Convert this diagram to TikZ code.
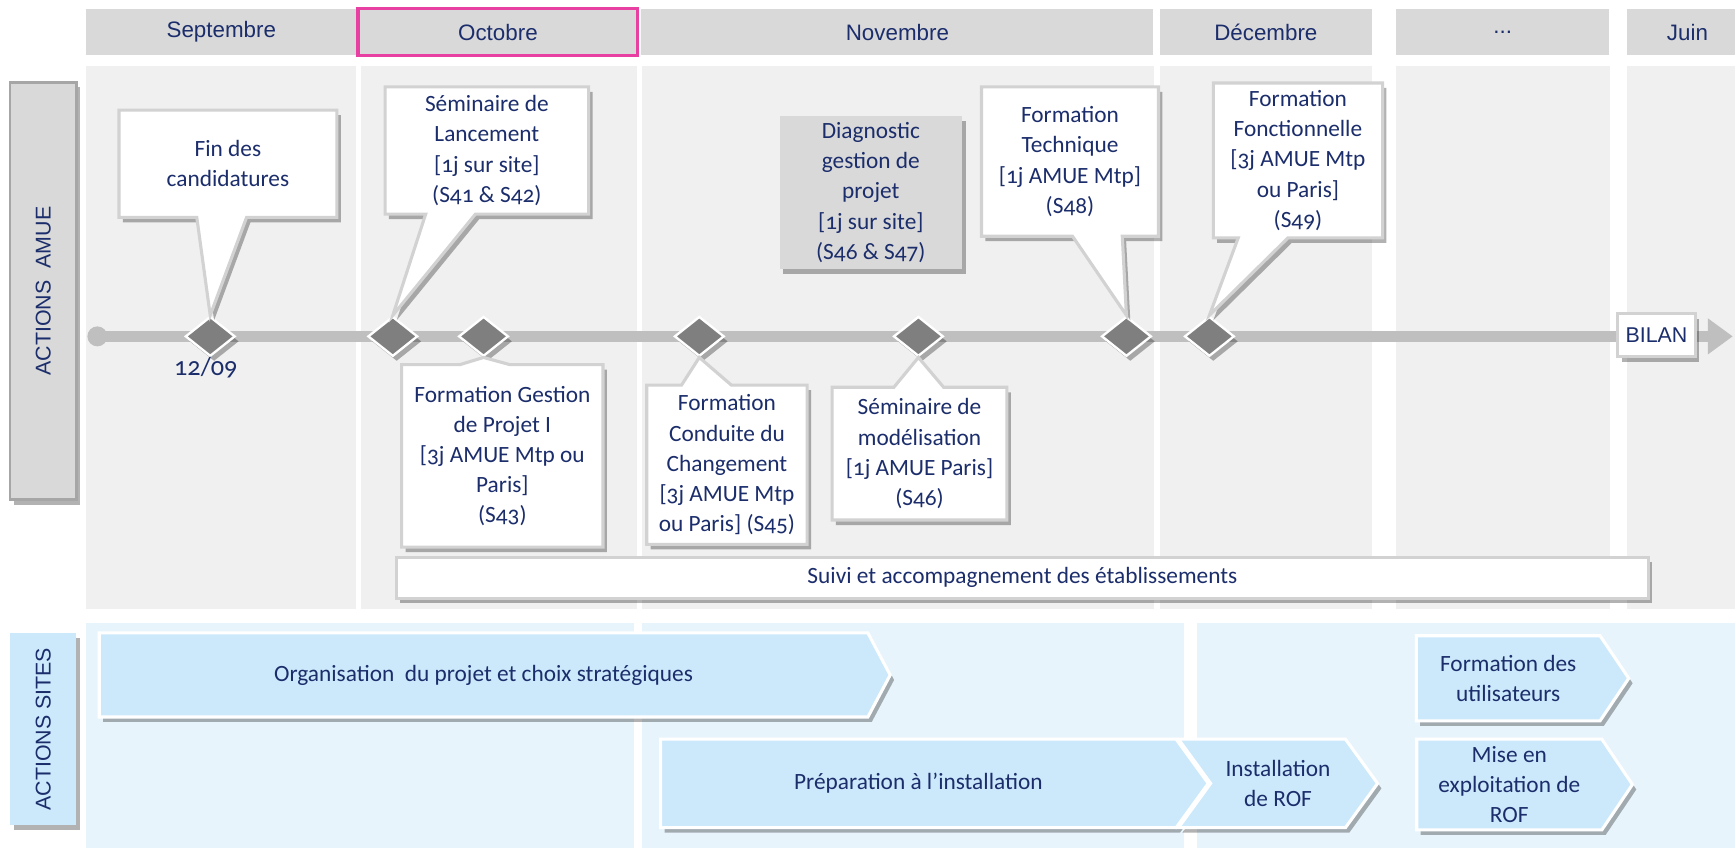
\documentclass[tikz,border=0pt]{standalone}
\usepackage{fontspec}
\setmainfont{Carlito}[Numbers=OldStyle]
\newfontfamily\arialfont{Liberation Sans}
\usetikzlibrary{shapes.geometric,shapes.callouts,shapes.symbols,shadows,arrows.meta}

\definecolor{navy}{HTML}{1B2D6B}
\definecolor{pinkframe}{HTML}{E83FA3}
\definecolor{panelgrey}{HTML}{F0F0F0}
\definecolor{bargrey}{HTML}{D9D9D9}
\definecolor{edgegrey}{HTML}{D2D2D2}
\definecolor{labeledge}{HTML}{A6A6A6}
\definecolor{panelblue}{HTML}{E8F4FC}
\definecolor{chevblue}{HTML}{CCE9FB}
\definecolor{linegrey}{HTML}{BFBFBF}
\definecolor{milestonegrey}{HTML}{7F7F7F}

\tikzset{
  softshadow/.style={drop shadow={shadow xshift=0.07cm, shadow yshift=-0.09cm, opacity=0.3, fill=black}},
  month/.style={fill=bargrey, minimum height=0.84cm, inner sep=0pt, text=navy,
    font=\arialfont\fontsize{11.5}{14}\selectfont},
  lanebox/.style={draw=labeledge, line width=1.2pt, rotate=90, minimum height=1.2cm, inner sep=0pt,
    text=navy, font=\arialfont\fontsize{11}{13}\selectfont, softshadow},
  milestone/.style={diamond, fill=milestonegrey, draw=white, line width=1.2pt, minimum width=0.9cm,
    minimum height=0.72cm, inner sep=0pt, softshadow},
  bubble/.style={rectangle callout, fill=white, draw=edgegrey, line width=1.6pt, align=center,
    inner sep=2pt, text=navy, font=\fontsize{12}{15.5}\selectfont, callout pointer width=0.9cm, softshadow},
  flatbox/.style={rectangle, fill=white, draw=edgegrey, line width=1.6pt, inner sep=2pt, text=navy,
    font=\fontsize{12}{15.5}\selectfont, softshadow},
  stage/.style={signal, signal to=east, fill=chevblue, draw=white, line width=1.6pt, align=center,
    inner sep=2pt, text=navy, font=\fontsize{12}{15.5}\selectfont, softshadow}
}

\begin{document}
\begin{tikzpicture}[x=0.02cm, y=-0.02cm]
  \useasboundingbox (0,0) rectangle (1568,766);
  \fill[white] (0,0) rectangle (1568,766);
  % month headers
  \node[month, minimum width=4.88cm] (sep) at (200,29) {Septembre};
  \node[month, minimum width=5.04cm] (oct) at (450,29) {Octobre};
  \node[month, minimum width=9.26cm, text width=8.4cm, align=center] (nov) at (811,29) {Novembre};
  \node[month, minimum width=3.84cm] (dec) at (1144,29) {Décembre};
  \node[month, minimum width=3.86cm] (etc) at (1358,29) {...};
  \node[month, minimum width=2.2cm] (jun) at (1525,29) {Juin};
  \draw[pinkframe, line width=1.8pt] (oct.south west) rectangle (oct.north east);
  % columns of the two lanes
  \fill[panelgrey] (78,60) rectangle (322,550);
  \fill[panelgrey] (326,60) rectangle (576,550);
  \fill[panelgrey] (580,60) rectangle (1043,550);
  \fill[panelgrey] (1048,60) rectangle (1240,550);
  \fill[panelgrey] (1262,60) rectangle (1455,550);
  \fill[panelgrey] (1470,60) rectangle (1580,550);
  \fill[panelblue] (78,563) rectangle (573,770);
  \fill[panelblue] (580,563) rectangle (1070,770);
  \fill[panelblue] (1082,563) rectangle (1580,770);
  % lane labels
  \node[lanebox, fill=bargrey, minimum width=7.54cm] (amue) at (39,263) {ACTIONS\ \ AMUE};
  \node[lanebox, fill=chevblue, draw=none, minimum width=3.48cm] (sites) at (39,659) {ACTIONS SITES};
  % time line
  \node[circle, fill=linegrey, minimum size=0.36cm, inner sep=0pt] (tlstart) at (88,304) {};
  \coordinate (tlend) at (1566,304);
  \draw[linegrey, line width=5.5pt, -{Triangle[length=0.45cm,width=0.62cm]}] (tlstart.center) -- (tlend);
  \node[milestone] (m1) at (190,304) {};
  \node[milestone] (m2) at (355,304) {};
  \node[milestone] (m3) at (437,304) {};
  \node[milestone] (m4) at (632,304) {};
  \node[milestone] (m5) at (830,304) {};
  \node[milestone] (m6) at (1018,304) {};
  \node[milestone] (m7) at (1093,304) {};
  \node[text=navy, font=\fontsize{13.5}{16}\selectfont] (date) at (186,332) {12/09};
  \node[flatbox, font=\arialfont\fontsize{11}{13}\selectfont, minimum width=1.4cm, minimum height=0.78cm] (bilan) at (1497,303) {BILAN};
  % events above the line
  \node[bubble, minimum width=3.94cm, minimum height=1.94cm, callout absolute pointer={(m1.north)}]
    (fin) at (206,148) {Fin des\\candidatures};
  \node[bubble, minimum width=3.68cm, minimum height=2.3cm, callout absolute pointer={(m2.north)}]
    (lancement) at (440,136) {Séminaire de\\Lancement\\{[}1j sur site{]}\\(S41 \& S42)};
  \node[flatbox, fill=bargrey, draw=none, align=center, minimum width=3.3cm, minimum height=2.76cm]
    (diag) at (787,174) {Diagnostic\\gestion de\\projet\\{[}1j sur site{]}\\(S46 \& S47)};
  \node[bubble, minimum width=3.2cm, minimum height=2.7cm, callout absolute pointer={(m6.north)}]
    (technique) at (967,146) {Formation\\Technique\\{[}1j AMUE Mtp{]}\\(S48)};
  \node[bubble, minimum width=3.06cm, minimum height=2.8cm, callout absolute pointer={(m7.north)}]
    (fonction) at (1173,145) {Formation\\Fonctionnelle\\{[}3j AMUE Mtp\\ou Paris{]}\\(S49)};
  % events below the line
  \node[bubble, minimum width=3.64cm, minimum height=3.3cm, callout absolute pointer={(m3.south)}]
    (gestion) at (454,412) {Formation Gestion\\de Projet I\\{[}3j AMUE Mtp ou\\Paris{]}\\(S43)};
  \node[bubble, minimum width=2.9cm, minimum height=2.88cm, callout absolute pointer={(m4.south)}]
    (conduite) at (657,420) {Formation\\Conduite du\\Changement\\{[}3j AMUE Mtp\\ou Paris{]} (S45)};
  \node[bubble, minimum width=3.16cm, minimum height=2.4cm, callout absolute pointer={(m5.south)}]
    (modelisation) at (831,410) {Séminaire de\\modélisation\\{[}1j AMUE Paris{]}\\(S46)};
  \node[flatbox, minimum width=22.64cm, minimum height=0.74cm] (suivi) at (924,522) {Suivi et accompagnement des établissements};
  % actions of the sites
  \node[stage, signal pointer angle=124, minimum width=14.3cm, minimum height=1.52cm] (orga) at (437,610) {Organisation\ \ du projet et choix stratégiques};
  \node[stage, signal pointer angle=108, minimum width=9.9cm, minimum height=1.6cm] (prepa) at (830,708) {Préparation à l’installation};
  \node[stage, signal from=west, signal pointer angle=108, minimum width=3.6cm, minimum height=1.6cm] (instal) at (1155,708) {Installation\\de ROF};
  \node[stage, signal pointer angle=112, minimum width=3.84cm, minimum height=1.54cm] (usagers) at (1363,613) {Formation des\\utilisateurs};
  \node[stage, signal pointer angle=112, minimum width=3.9cm, minimum height=1.64cm] (exploit) at (1364,709) {Mise en\\exploitation de\\ROF};
\end{tikzpicture}
\end{document}
